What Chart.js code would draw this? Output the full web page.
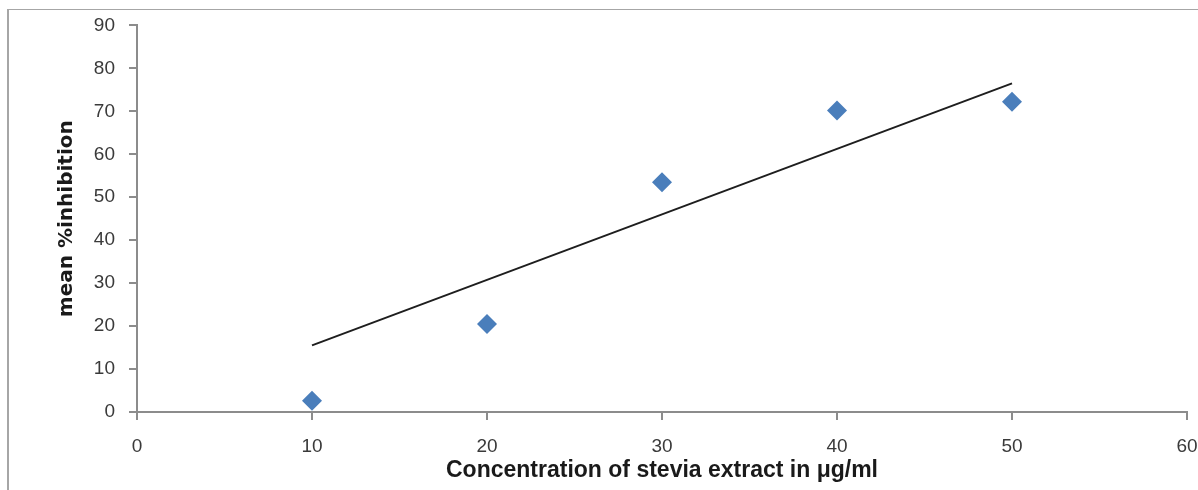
<!DOCTYPE html>
<html>
<head>
<meta charset="utf-8">
<script src="https://cdn.jsdelivr.net/npm/chart.js@4/dist/chart.umd.min.js"></script>
<style>
  html, body { margin: 0; padding: 0; background: #ffffff; }
  #wrap { position: relative; width: 1198px; height: 490px; }
  #frame { position: absolute; left: 7px; top: 9px; width: 1191px; height: 481px;
           border-top: 1px solid #a6a6a6; border-left: 2px solid #a6a6a6; box-sizing: border-box; }
  canvas { position: absolute; left: 0; top: 0; }
</style>
</head>
<body>
<div id="wrap">
  <div id="frame"></div>
  <canvas id="c" width="1198" height="490"></canvas>
</div>
<script>
// Data
const concentrations = [10, 20, 30, 40, 50];
const meanInhibition = [2.6, 20.5, 53.5, 70.2, 72.2];
const trendX = [10, 50];
const trendY = [15.5, 76.5];
const xTitle = 'Concentration of stevia extract in μg/ml';
const yTitle = 'mean %inhibition';

const points = concentrations.map((x, i) => ({ x: x, y: meanInhibition[i] }));
const trend = trendX.map((x, i) => ({ x: x, y: trendY[i] }));

const tickFont = { family: 'Liberation Sans', size: 19 };
const tickColor = '#3a3a3a';
const axisColor = '#8c8c8c';

new Chart(document.getElementById('c'), {
  type: 'scatter',
  data: {
    datasets: [
      {
        label: 'mean %inhibition',
        data: points,
        pointStyle: 'rectRot',
        pointRadius: 10,
        pointHoverRadius: 10,
        backgroundColor: '#4a7ebb',
        borderColor: '#4a7ebb',
        borderWidth: 0
      },
      {
        label: 'Linear',
        type: 'line',
        data: trend,
        borderColor: '#1e1e1e',
        borderWidth: 2,
        pointRadius: 0,
        fill: false
      }
    ]
  },
  options: {
    responsive: false,
    animation: false,
    layout: { padding: { top: 25, right: 0, bottom: 0, left: 0 } },
    plugins: { legend: { display: false }, tooltip: { enabled: false } },
    scales: {
      x: {
        type: 'linear',
        min: 0, max: 60,
        ticks: { stepSize: 10, font: tickFont, color: tickColor, padding: 15 },
        grid: { drawOnChartArea: false, drawTicks: true, tickLength: 8, color: axisColor, lineWidth: 2 },
        border: { display: true, color: axisColor, width: 2 },
        title: { display: true, text: xTitle, color: '#1a1a1a',
                 font: { family: 'Liberation Sans', size: 23, weight: 'bold' },
                 padding: { top: 0, bottom: 6 } },
        afterFit: (s) => { s.height = 78; s.paddingRight = 11; s.paddingLeft = 0; }
      },
      y: {
        type: 'linear',
        min: 0, max: 90,
        ticks: { stepSize: 10, font: tickFont, color: tickColor, padding: 14 },
        grid: { drawOnChartArea: false, drawTicks: true, tickLength: 8, color: axisColor, lineWidth: 2 },
        border: { display: true, color: axisColor, width: 2 },
        title: { display: true, text: yTitle, color: '#1a1a1a',
                 font: { family: 'DejaVu Sans', size: 20, weight: 'bold' },
                 padding: { top: 55, bottom: 0 } },
        afterFit: (s) => { s.width = 137; }
      }
    }
  }
});
</script>
</body>
</html>
